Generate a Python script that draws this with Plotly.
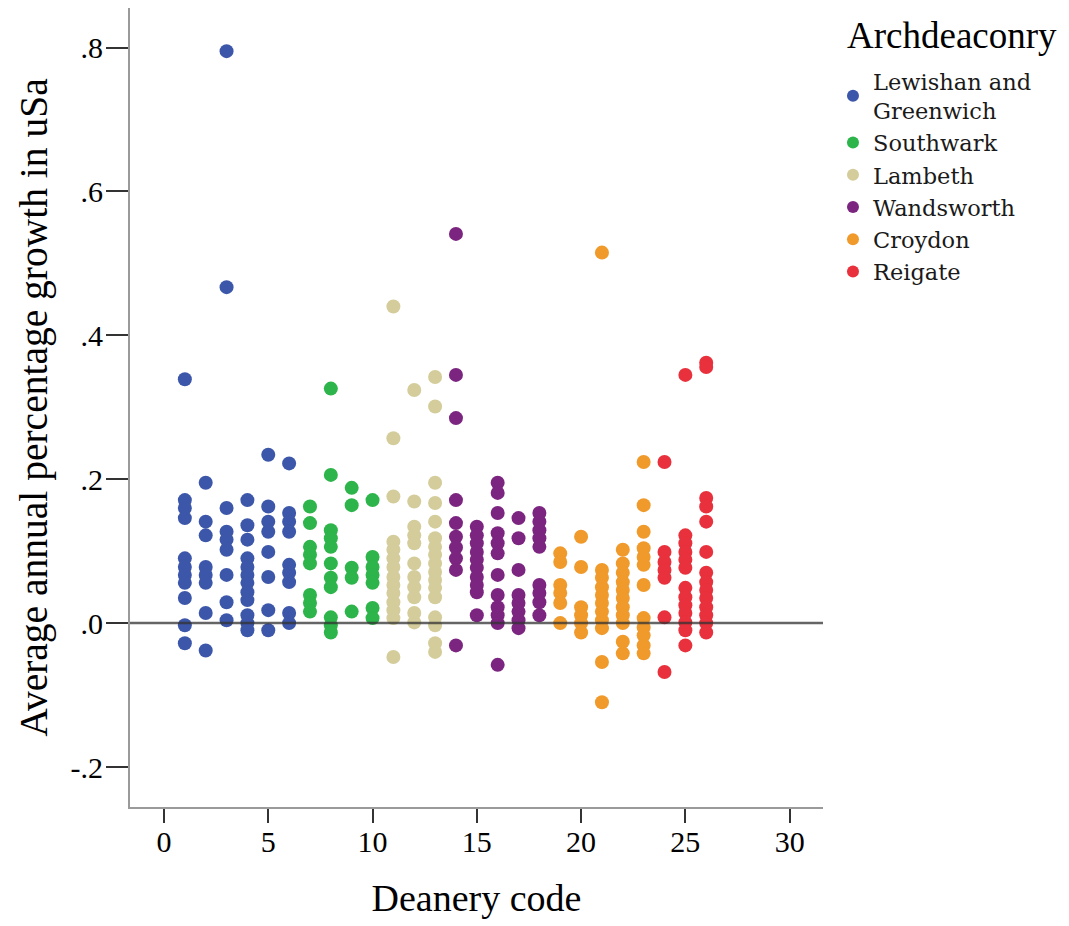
import plotly.graph_objects as go

# ---- data ----
lewisham_code = [1]*11 + [2]*8 + [3]*9 + [4]*12 + [5]*8 + [6]*9
lewisham_growth = [0.339, 0.171, 0.160, 0.146, 0.090, 0.078, 0.067, 0.056, 0.035, -0.003, -0.028,
                   0.195, 0.141, 0.122, 0.078, 0.067, 0.056, 0.014, -0.038,
                   0.795, 0.467, 0.160, 0.127, 0.116, 0.102, 0.067, 0.029, 0.004,
                   0.171, 0.136, 0.116, 0.090, 0.078, 0.067, 0.056, 0.043, 0.032, 0.011, 0.000, -0.010,
                   0.234, 0.162, 0.141, 0.127, 0.099, 0.064, 0.018, -0.010,
                   0.222, 0.153, 0.141, 0.127, 0.081, 0.070, 0.057, 0.014, 0.000]

southwark_code = [7]*8 + [8]*11 + [9]*5 + [10]*7
southwark_growth = [0.162, 0.139, 0.106, 0.095, 0.083, 0.039, 0.028, 0.016,
                    0.326, 0.206, 0.129, 0.118, 0.106, 0.083, 0.063, 0.050, 0.008, -0.003, -0.013,
                    0.188, 0.164, 0.077, 0.063, 0.016,
                    0.171, 0.092, 0.078, 0.067, 0.056, 0.021, 0.007]

lambeth_code = [11]*14 + [12]*11 + [13]*17
lambeth_growth = [0.440, 0.257, 0.176, 0.113, 0.102, 0.090, 0.078, 0.064, 0.053, 0.042, 0.029, 0.018, 0.007, -0.047,
                  0.324, 0.169, 0.134, 0.122, 0.111, 0.083, 0.064, 0.050, 0.036, 0.014, 0.001,
                  0.342, 0.301, 0.195, 0.167, 0.141, 0.118, 0.106, 0.095, 0.083, 0.071, 0.060, 0.049, 0.036,
                  0.008, -0.003, -0.028, -0.040]

wandsworth_code = [14]*10 + [15]*10 + [16]*12 + [17]*8 + [18]*9
wandsworth_growth = [0.541, 0.345, 0.285, 0.171, 0.139, 0.120, 0.105, 0.090, 0.074, -0.031,
                     0.134, 0.122, 0.111, 0.099, 0.088, 0.077, 0.064, 0.053, 0.043, 0.011,
                     0.195, 0.181, 0.153, 0.125, 0.111, 0.097, 0.067, 0.039, 0.022, 0.011, 0.000, -0.058,
                     0.146, 0.118, 0.074, 0.039, 0.028, 0.016, 0.004, -0.007,
                     0.153, 0.141, 0.129, 0.118, 0.106, 0.053, 0.042, 0.029, 0.011]

croydon_code = [19]*6 + [20]*6 + [21]*11 + [22]*11 + [23]*12
croydon_growth = [0.097, 0.085, 0.053, 0.042, 0.028, 0.000,
                  0.120, 0.078, 0.022, 0.011, 0.000, -0.013,
                  0.515, 0.074, 0.063, 0.050, 0.039, 0.028, 0.016, 0.004, -0.007, -0.054, -0.110,
                  0.102, 0.083, 0.070, 0.057, 0.046, 0.035, 0.022, 0.011, 0.000, -0.026, -0.042,
                  0.224, 0.164, 0.127, 0.104, 0.092, 0.081, 0.053, 0.007, -0.006, -0.017, -0.031, -0.042]

reigate_code = [24]*7 + [25]*13 + [26]*14
reigate_growth = [0.224, 0.099, 0.085, 0.074, 0.063, 0.008, -0.068,
                  0.345, 0.122, 0.111, 0.099, 0.088, 0.077, 0.049, 0.036, 0.025, 0.014, 0.001, -0.010, -0.031,
                  0.362, 0.356, 0.174, 0.162, 0.141, 0.099, 0.070, 0.057, 0.046, 0.035, 0.022, 0.011, 0.000, -0.013]

series_names = ["Lewishan and<br>Greenwich", "Southwark", "Lambeth", "Wandsworth", "Croydon", "Reigate"]
series_colors = ["#3c57a9", "#2db44a", "#d4cd9b", "#7b2580", "#f09a2b", "#e8313c"]
legend_title = "Archdeaconry"

x_ticks = [0, 5, 10, 15, 20, 25, 30]
y_ticks = [-0.2, 0.0, 0.2, 0.4, 0.6, 0.8]
y_ticktext = ["-.2", ".0", ".2", ".4", ".6", ".8"]

xs = [lewisham_code, southwark_code, lambeth_code, wandsworth_code, croydon_code, reigate_code]
ys = [lewisham_growth, southwark_growth, lambeth_growth, wandsworth_growth, croydon_growth, reigate_growth]

fig = go.Figure()
for i, (name, col, x, y) in enumerate(zip(series_names, series_colors, xs, ys)):
    fig.add_trace(go.Scatter(x=x, y=y, mode="markers", name=name, legendgroup=f"g{i}",
                             marker=dict(color=col, size=14, line=dict(width=0))))

serif = "Liberation Serif"
fig.update_layout(
    template="none",
    width=1069, height=926,
    margin=dict(l=122, r=254, t=0, b=127, pad=0),
    paper_bgcolor="white", plot_bgcolor="white",
    font=dict(family=serif, color="black", size=30),
    showlegend=True,
    legend=dict(
        x=1.0144, xanchor="left", y=0.935, yanchor="top",
        font=dict(family="DejaVu Serif", size=22.5, color="#1a1a1a"),
        bgcolor="rgba(0,0,0,0)", borderwidth=0,
        tracegroupgap=0, itemsizing="constant",
    ),
    annotations=[dict(text=legend_title, xref="paper", yref="paper", x=1.0317, y=0.966,
                      xanchor="left", yanchor="middle", showarrow=False,
                      font=dict(family=serif, size=37, color="black"))],
    xaxis=dict(
        range=[-1.63, 31.6], tickvals=x_ticks, ticktext=[str(v) for v in x_ticks],
        showgrid=False, zeroline=False, showline=True, linecolor="#9a9a9a", linewidth=2,
        ticks="outside", ticklen=14, tickwidth=2, tickcolor="#333333",
        tickfont=dict(family=serif, size=30, color="black"), ticklabelstandoff=-7,
        title=dict(text="Deanery code", font=dict(family=serif, size=38, color="black"), standoff=27),
        automargin=False, mirror=False,
    ),
    yaxis=dict(
        range=[-0.2556, 0.855], tickvals=y_ticks, ticktext=y_ticktext,
        showgrid=False, zeroline=False, showline=True, linecolor="#9a9a9a", linewidth=2,
        ticks="outside", ticklen=22, tickwidth=2, tickcolor="#333333",
        tickfont=dict(family=serif, size=30, color="black"), ticklabelstandoff=-3,
        title=dict(text="Average annual percentage growth in uSa",
                   font=dict(family=serif, size=39.5, color="black"), standoff=11),
        automargin=False, mirror=False,
    ),
    shapes=[dict(type="line", xref="paper", yref="y", x0=0, x1=1, y0=0, y1=0,
                 line=dict(color="rgba(50,50,50,0.75)", width=2.5), layer="above")],
)

fig.write_html("out.html")
